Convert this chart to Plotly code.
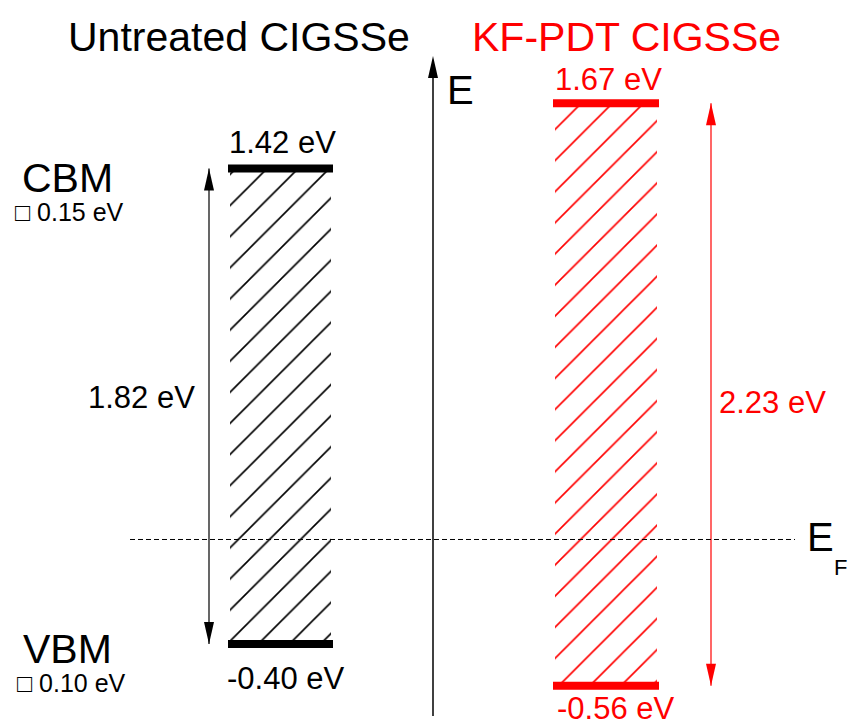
import plotly.graph_objects as go

# ---------------- data ----------------
materials = ["Untreated CIGSSe", "KF-PDT CIGSSe"]
cbm = [1.42, 1.67]          # conduction band minimum (eV, relative to E_F)
vbm = [-0.40, -0.56]        # valence band maximum (eV)
gap = [1.82, 2.23]          # band gap (eV)
cbm_labels = ["1.42 eV", "1.67 eV"]
vbm_labels = ["-0.40 eV", "-0.56 eV"]
gap_labels = ["1.82 eV", "2.23 eV"]
fermi = 0.0
cbm_unc = "\u25a1 0.15 eV"
vbm_unc = "\u25a1 0.10 eV"

# ---------------- layout / style ----------------
W, H = 849, 723
colors = ["#000000", "#ff0000"]
box_x = [(230, 331), (555, 657)]
bar_x = [(228, 333), (553, 659)]
arrow_x = [209, 711]
title_x = [239, 626]
cbm_lab_x = [282, 608]
vbm_lab_x = [286, 616]
cbm_lab_shift = [26, 24]
vbm_lab_shift = [-34, -23]
gap_lab_x = [141, 772]
gap_lab_shift = [9, -8]
YMIN, YMAX = -0.7023, 2.0647
FONT = "Arial, Liberation Sans, sans-serif"


def pyp(p):
    """pixel row -> paper fraction"""
    return 1 - p / H


fig = go.Figure()
shapes = []
ann = []

for i in range(2):
    c = colors[i]
    x0, x1 = box_x[i]
    # hatched band-gap box
    fig.add_trace(go.Scatter(
        x=[x0, x1, x1, x0, x0], y=[vbm[i], vbm[i], cbm[i], cbm[i], vbm[i]],
        mode="lines", fill="toself", line=dict(width=0, color=c),
        fillcolor="white",
        fillpattern=dict(shape="/", fgcolor=c, bgcolor="white", fgopacity=1,
                         size=22, solidity=0.075),
        hoverinfo="skip", showlegend=False))
    # CBM / VBM bars
    bx0, bx1 = bar_x[i]
    for lvl in (cbm[i], vbm[i]):
        fig.add_trace(go.Scatter(x=[bx0, bx1], y=[lvl, lvl], mode="lines",
                                 line=dict(color=c, width=8), hoverinfo="skip", showlegend=False))
    # band-gap double arrow
    ax = arrow_x[i]
    shapes.append(dict(type="line", xref="x", yref="y", x0=ax, x1=ax, y0=vbm[i], y1=cbm[i],
                       line=dict(color=c, width=1.2)))
    shapes.append(dict(type="path", xref="x", yref="y", xsizemode="pixel", ysizemode="pixel",
                       xanchor=ax, yanchor=cbm[i], path="M-5,-22 L0,0 L5,-22 Z",
                       fillcolor=c, line=dict(width=0)))
    shapes.append(dict(type="path", xref="x", yref="y", xsizemode="pixel", ysizemode="pixel",
                       xanchor=ax, yanchor=vbm[i], path="M-5,22 L0,0 L5,22 Z",
                       fillcolor=c, line=dict(width=0)))
    # labels
    ann.append(dict(x=title_x[i], y=pyp(37), xref="x", yref="paper", text=materials[i],
                    font=dict(size=41, color=c)))
    ann.append(dict(x=cbm_lab_x[i], y=cbm[i], xref="x", yref="y", yshift=cbm_lab_shift[i],
                    text=cbm_labels[i], font=dict(size=31, color=c)))
    ann.append(dict(x=vbm_lab_x[i], y=vbm[i], xref="x", yref="y", yshift=vbm_lab_shift[i],
                    text=vbm_labels[i], font=dict(size=31, color=c)))
    ann.append(dict(x=gap_lab_x[i], y=(cbm[i] + vbm[i]) / 2, xref="x", yref="y",
                    yshift=gap_lab_shift[i], text=gap_labels[i], font=dict(size=31, color=c)))

# CBM / VBM side labels
ann.append(dict(x=67, y=cbm[0], xref="x", yref="y", yshift=-10, text="CBM", font=dict(size=41)))
ann.append(dict(x=69, y=cbm[0], xref="x", yref="y", yshift=-44, text=cbm_unc, font=dict(size=25)))
ann.append(dict(x=67, y=vbm[0], xref="x", yref="y", yshift=-5, text="VBM", font=dict(size=41)))
ann.append(dict(x=71, y=vbm[0], xref="x", yref="y", yshift=-39, text=vbm_unc, font=dict(size=25)))

# Fermi level
shapes.append(dict(type="line", xref="x", yref="y", x0=130, x1=795, y0=fermi, y1=fermi,
                   line=dict(color="black", width=1, dash="5px,3px")))
ann.append(dict(x=820, y=fermi, xref="x", yref="y", yshift=2, text="E", font=dict(size=40)))
ann.append(dict(x=840, y=fermi, xref="x", yref="y", yshift=-28, text="F", font=dict(size=22)))

# Energy axis
shapes.append(dict(type="line", xref="x", yref="paper", x0=433, x1=433, y0=pyp(716), y1=pyp(70),
                   line=dict(color="black", width=1.5)))
shapes.append(dict(type="path", xref="x", yref="paper", xsizemode="pixel", ysizemode="pixel",
                   xanchor=433, yanchor=pyp(56), path="M-5,-22 L0,0 L5,-22 Z",
                   fillcolor="black", line=dict(width=0)))
ann.append(dict(x=460, y=pyp(90), xref="x", yref="paper", text="E", font=dict(size=40)))

for a in ann:
    a.setdefault("showarrow", False)
    a.setdefault("xanchor", "center")
    a.setdefault("yanchor", "middle")

fig.update_layout(
    width=W, height=H, margin=dict(l=0, r=0, t=0, b=0),
    paper_bgcolor="white", plot_bgcolor="white",
    font=dict(family=FONT, color="black"),
    xaxis=dict(range=[0, W], visible=False, fixedrange=True),
    yaxis=dict(range=[YMIN, YMAX], visible=False, fixedrange=True),
    shapes=shapes, annotations=ann, showlegend=False,
)

fig.write_html("out.html", config={"displayModeBar": False},
               post_script="document.body.style.margin='0';document.body.style.overflow='hidden';")
